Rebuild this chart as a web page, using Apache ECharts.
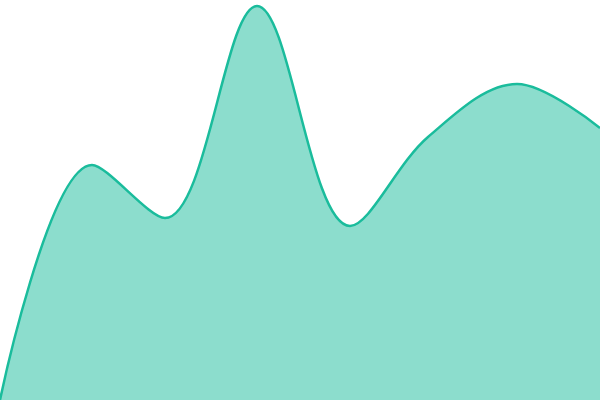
<!DOCTYPE html>
<html><head><meta charset="utf-8">
<script src="https://cdn.jsdelivr.net/npm/echarts@6/dist/echarts.min.js"></script>
<style>html,body{margin:0;padding:0;background:#fff}#c{width:600px;height:400px}</style>
</head><body><div id="c"></div>
<script>
const xPositions = [0, 92, 165, 257, 350, 428, 517, 600];
const values = [0, 235, 182, 394, 174, 263, 316, 272];
const chart = echarts.init(document.getElementById('c'));
chart.setOption({
  animation: false,
  grid: {left: 0, right: 0, top: 0, bottom: 0},
  xAxis: {type: 'value', min: 0, max: 600, show: false},
  yAxis: {type: 'value', min: 0, max: 400, show: false},
  series: [{
    type: 'line', data: xPositions.map((x, i) => [x, values[i]]), smooth: 0.35, symbol: 'none',
    lineStyle: {color: '#1abc9c', width: 2.5},
    areaStyle: {color: '#1abc9c', opacity: 0.5}
  }]
});
</script></body></html>
